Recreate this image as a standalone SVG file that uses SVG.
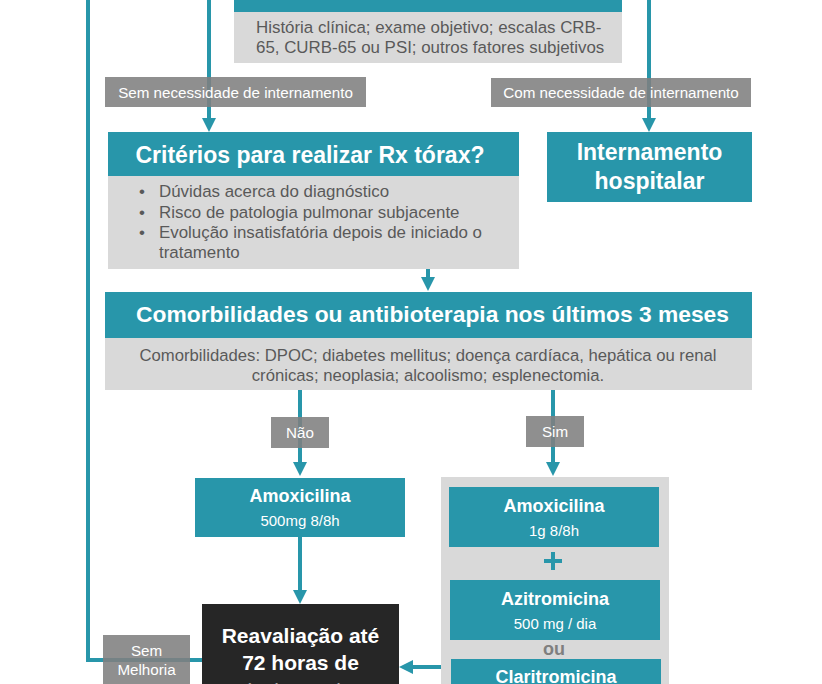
<svg xmlns="http://www.w3.org/2000/svg" width="822" height="684" viewBox="0 0 822 684">
<style>
.teal{fill:#2896AA}
.gray{fill:#D9D9D9}
.dark{fill:#262626}
.lbl{fill:#7F7F7F;fill-opacity:0.88}
.t{font-family:"Liberation Sans",Arial,sans-serif}
.w{fill:#FFFFFF}
.b{font-weight:bold}
.g{fill:#595959}
.conn{fill:none;stroke:#2896AA;stroke-width:4}
</style>
<defs>
<marker id="ah" viewBox="0 0 14 14" refX="4" refY="7" markerWidth="14" markerHeight="14" markerUnits="userSpaceOnUse" orient="auto">
<path d="M0,0 L14,7 L0,14 z" fill="#2896AA"/>
</marker>
</defs>

<g id="connectors">
<path class="conn" d="M202,660 H88 V0"/>
<path class="conn" d="M209,0 V122" marker-end="url(#ah)"/>
<path class="conn" d="M649,0 V122" marker-end="url(#ah)"/>
<path class="conn" d="M428,269 V281" marker-end="url(#ah)"/>
<path class="conn" d="M300,390 V466" marker-end="url(#ah)"/>
<path class="conn" d="M553,390 V466" marker-end="url(#ah)"/>
<path class="conn" d="M300,537 V594" marker-end="url(#ah)"/>
<path class="conn" d="M441,667 H409" marker-end="url(#ah)"/>
</g>

<g id="avaliacao">
<rect class="teal" x="234" y="-20" width="388" height="32"/>
<rect class="gray" x="234" y="12" width="388" height="51"/>
<text class="t g" font-size="16.9" x="256" y="33">História clínica; exame objetivo; escalas CRB-</text>
<text class="t g" font-size="16.9" x="256" y="53">65, CURB-65 ou PSI; outros fatores subjetivos</text>
</g>

<g id="label-sem-internamento">
<rect class="lbl" x="105" y="77" width="261" height="30"/>
<text class="t w" font-size="15.2" x="235.5" y="98" text-anchor="middle">Sem necessidade de internamento</text>
</g>

<g id="label-com-internamento">
<rect class="lbl" x="491" y="78" width="260" height="29"/>
<text class="t w" font-size="15.2" x="621" y="98" text-anchor="middle">Com necessidade de internamento</text>
</g>

<g id="criterios">
<rect class="teal" x="108" y="132" width="411" height="44"/>
<text class="t w b" font-size="23" x="310" y="163" text-anchor="middle">Critérios para realizar Rx tórax?</text>
<rect class="gray" x="108" y="176" width="411" height="93"/>
<g class="t g" font-size="16.9">
<text x="139" y="197">•</text><text x="159" y="197">Dúvidas acerca do diagnóstico</text>
<text x="139" y="218">•</text><text x="159" y="218">Risco de patologia pulmonar subjacente</text>
<text x="139" y="238">•</text><text x="159" y="238">Evolução insatisfatória depois de iniciado o</text>
<text x="159" y="258">tratamento</text>
</g>
</g>

<g id="internamento">
<rect class="teal" x="547" y="132" width="205" height="70"/>
<text class="t w b" font-size="23" x="649.5" y="160" text-anchor="middle">Internamento</text>
<text class="t w b" font-size="23" x="649.5" y="189" text-anchor="middle">hospitalar</text>
</g>

<g id="comorbilidades">
<rect class="teal" x="105" y="292" width="647" height="46"/>
<text class="t w b" font-size="22.8" x="432.5" y="322" text-anchor="middle">Comorbilidades ou antibioterapia nos últimos 3 meses</text>
<rect class="gray" x="105" y="338" width="647" height="52"/>
<text class="t g" font-size="16.7" x="428" y="361" text-anchor="middle">Comorbilidades: DPOC; diabetes mellitus; doença cardíaca, hepática ou renal</text>
<text class="t g" font-size="16.7" x="428" y="381" text-anchor="middle">crónicas; neoplasia; alcoolismo; esplenectomia.</text>
</g>

<g id="label-nao">
<rect class="lbl" x="271" y="417" width="58" height="31"/>
<text class="t w" font-size="15.2" x="300" y="438" text-anchor="middle">Não</text>
</g>

<g id="label-sim">
<rect class="lbl" x="526" y="416" width="58" height="31"/>
<text class="t w" font-size="15.2" x="555" y="437" text-anchor="middle">Sim</text>
</g>

<g id="amoxicilina-500">
<rect class="teal" x="195" y="478" width="210" height="59"/>
<text class="t w b" font-size="18" x="300" y="502" text-anchor="middle">Amoxicilina</text>
<text class="t w" font-size="15" x="300" y="526" text-anchor="middle">500mg 8/8h</text>
</g>

<g id="combinacao">
<rect class="gray" x="441" y="477" width="228" height="220"/>
<rect class="teal" x="449" y="487" width="210" height="60"/>
<text class="t w b" font-size="18" x="554" y="512" text-anchor="middle">Amoxicilina</text>
<text class="t w" font-size="15" x="554" y="536" text-anchor="middle">1g 8/8h</text>
<path d="M544,561 H562 M553,552 V570" stroke="#2896AA" stroke-width="4" fill="none"/>
<rect class="teal" x="450" y="580" width="210" height="60"/>
<text class="t w b" font-size="18" x="555" y="605" text-anchor="middle">Azitromicina</text>
<text class="t w" font-size="15" x="555" y="629" text-anchor="middle">500 mg / dia</text>
<text class="t b" font-size="18" fill="#7F7F7F" x="554" y="655" text-anchor="middle">ou</text>
<rect class="teal" x="451" y="659" width="210" height="60"/>
<text class="t w b" font-size="18" x="556" y="683" text-anchor="middle">Claritromicina</text>
</g>

<g id="reavaliacao">
<rect class="dark" x="202" y="604" width="197" height="110"/>
<text class="t w b" font-size="21" x="300.5" y="643" text-anchor="middle">Reavaliação até</text>
<text class="t w b" font-size="21" x="300.5" y="670" text-anchor="middle">72 horas de</text>
<text class="t w b" font-size="21" x="300.5" y="697" text-anchor="middle">tratamento</text>
</g>

<g id="label-sem-melhoria">
<rect class="lbl" x="103" y="635" width="87" height="60"/>
<text class="t w" font-size="15.2" x="146.5" y="656" text-anchor="middle">Sem</text>
<text class="t w" font-size="15.2" x="146.5" y="675" text-anchor="middle">Melhoria</text>
</g>
</svg>
